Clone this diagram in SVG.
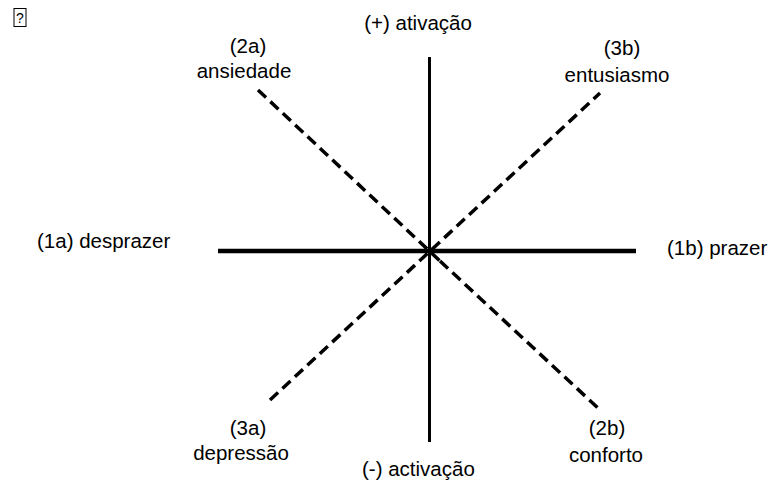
<svg xmlns="http://www.w3.org/2000/svg" width="781" height="486" viewBox="0 0 781 486">
<style>
text{font-family:"Liberation Sans",Arial,sans-serif;font-size:20.5px;fill:#000}
.c{text-anchor:middle}
.axis{stroke:#000;fill:none}
.dash{stroke:#000;fill:none;stroke-width:3.5;stroke-dasharray:11 6}
</style>
<rect width="781" height="486" fill="#fff"/>
<g id="mark">
<rect x="14" y="8.5" width="12" height="18" fill="#fff" stroke="#000" stroke-width="1"/>
<text x="20" y="23" class="c" style="font-size:14px">?</text>
</g>
<g id="connectors">
<line class="axis" x1="429.5" y1="57" x2="429.5" y2="442" stroke-width="3"/>
<line class="axis" x1="218" y1="251" x2="636" y2="251" stroke-width="4.5"/>
<line class="dash" x1="258" y1="90" x2="440" y2="261"/>
<line class="dash" x1="440" y1="261" x2="598" y2="408" stroke-width="5"/>
<line class="dash" x1="270" y1="400" x2="600" y2="93"/>
</g>
<g id="n-ativacao"><text x="418" y="30" class="c">(+) ativação</text></g>
<g id="n-2a"><text x="248" y="53" class="c">(2a)</text><text x="244" y="78" class="c">ansiedade</text></g>
<g id="n-3b"><text x="622" y="55" class="c">(3b)</text><text x="617" y="82" class="c">entusiasmo</text></g>
<g id="n-1a"><text x="37" y="248">(1a) desprazer</text></g>
<g id="n-1b"><text x="667" y="255">(1b) prazer</text></g>
<g id="n-3a"><text x="248" y="435" class="c">(3a)</text><text x="241" y="460" class="c">depressão</text></g>
<g id="n-desativacao"><text x="362" y="476">(-) activação</text></g>
<g id="n-2b"><text x="607" y="435" class="c">(2b)</text><text x="606" y="462" class="c">conforto</text></g>
</svg>
